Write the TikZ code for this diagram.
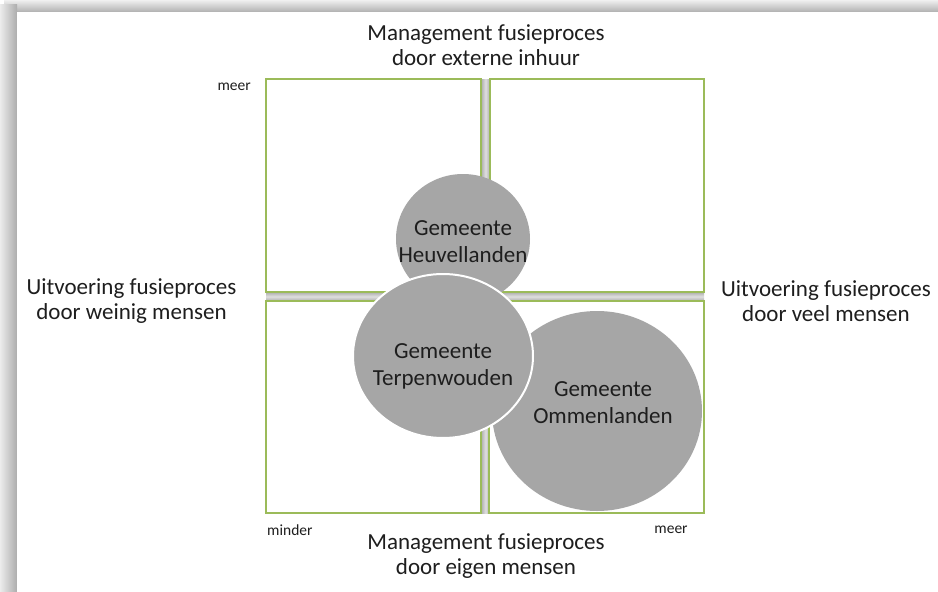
\documentclass[tikz,border=0pt]{standalone}
\usepackage{fontspec}
\setmainfont{Carlito}
\usetikzlibrary{shapes.geometric}

\definecolor{boxgreen}{HTML}{9BBB59}
\definecolor{discgray}{HTML}{A6A6A6}
\definecolor{inkgray}{HTML}{1E1E1E}

\tikzset{
  quadrant/.style={draw=boxgreen, line width=1.3pt, fill=white, rectangle,
    minimum width=215pt, minimum height=213pt, inner sep=0pt},
  disc/.style={ellipse, fill=discgray, inner sep=0pt},
  disctext/.style={align=center, text=inkgray, inner sep=0pt,
    font=\fontsize{23}{27}\selectfont},
  axislabel/.style={align=center, text=inkgray, font=\fontsize{23}{25}\selectfont},
  endlabel/.style={text=inkgray, font=\fontsize{15.5}{18}\selectfont, inner sep=0pt}
}

\begin{document}
\begin{tikzpicture}[x=1pt,y=-1pt]
  \useasboundingbox (0,0) rectangle (938,592);

  % page with its soft shadow along the top and left edges
  \fill[white] (0,0) rectangle (938,592);
  \shade[top color=gray!12, bottom color=gray!62] (4,0) rectangle (938,12);
  \shade[left color=gray!15, right color=gray!65] (0,4) rectangle (17,592);
  \fill[white] (17,12) rectangle (938,592);

  % grey cross between the four quadrants
  \shade[left color=gray!65, right color=gray!65, middle color=gray!25]
    (481,79) rectangle (490,513);
  \shade[top color=gray!65, bottom color=gray!65, middle color=gray!25]
    (266,292) rectangle (704,301);

  % quadrants
  \node[quadrant, minimum width=215pt, minimum height=213pt] (tl) at (373.5,185.5) {};
  \node[quadrant, minimum width=214pt, minimum height=213pt] (tr) at (597,185.5) {};
  \node[quadrant, minimum width=215pt, minimum height=212pt] (bl) at (373.5,407) {};
  \node[quadrant, minimum width=215pt, minimum height=212pt] (br) at (596.5,407) {};

  % municipalities
  \node[disc, minimum width=134pt, minimum height=130pt,
    label={[disctext, name=heuvtext, yshift=-2.5pt]center:Gemeente\\Heuvellanden}]
    (heuv) at (463,239) {};
  \node[disc, minimum width=210pt, minimum height=200pt,
    label={[disctext, name=ommetext, xshift=6pt, yshift=8pt]center:Gemeente\\Ommenlanden}]
    (omme) at (597,411) {};
  \node[disc, draw=white, line width=2pt, minimum width=180pt, minimum height=164pt,
    label={[disctext, name=terptext, yshift=-10.5pt]center:Gemeente\\Terpenwouden}]
    (terp) at (443,356) {};

  % axis descriptions
  \node[axislabel] (top) at (486,45) {Management fusieproces\\door externe inhuur};
  \node[axislabel] (bottom) at (486,556) {Management fusieproces\\door eigen mensen};
  \node[axislabel] (left) at (131.5,301) {Uitvoering fusieproces\\door weinig mensen};
  \node[axislabel] (right) at (826,301) {Uitvoering fusieproces\\door veel mensen};

  % scale ends
  \node[endlabel, anchor=east] (meertop) at (251,87) {meer};
  \node[endlabel, anchor=west] (minder) at (267,530) {minder};
  \node[endlabel] (meerbottom) at (671,530) {meer};
\end{tikzpicture}
\end{document}
